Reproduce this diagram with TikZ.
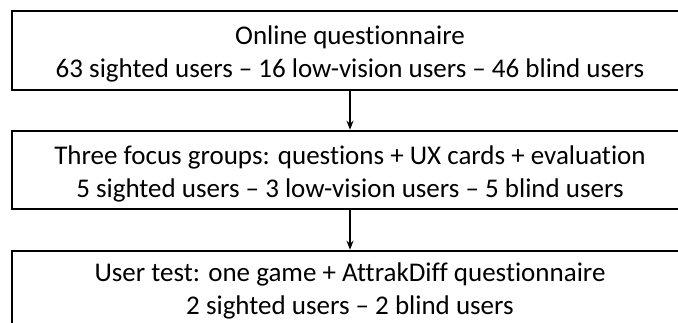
\documentclass[tikz,border=0pt]{standalone}
\usepackage{fontspec}
\setmainfont[Ligatures=NoCommon]{Carlito}
\usepackage{tikz}
\usetikzlibrary{arrows.meta}

\begin{document}
\begin{tikzpicture}
  [x=1pt,y=-1pt,every node/.style={draw,line width=2.6pt,minimum width=676pt,inner sep=0pt,align=center,font=\fontsize{27}{33}\selectfont}]

  \useasboundingbox (0,0) rectangle (678,322);
  \node[minimum height=79pt] (survey) at (350,50.5) {\rule{0pt}{26pt}Online questionnaire\\63 sighted users -- 16 low-vision users -- 46 blind users};
  \node[minimum height=78pt] (focus) at (350,170) {\rule{0pt}{26pt}Three focus groups: questions + UX cards + evaluation\\5 sighted users -- 3 low-vision users -- 5 blind users};
  \node[minimum height=79pt] (test) at (350,290.5) {User test: one game + AttrakDiff questionnaire\\2 sighted users -- 2 blind users};
  \foreach \from/\to in {survey/focus,focus/test}
    \draw[line width=1.6pt,-{Stealth[length=9pt,width=7pt]}] (\from) -- (\to);
\end{tikzpicture}
\end{document}
